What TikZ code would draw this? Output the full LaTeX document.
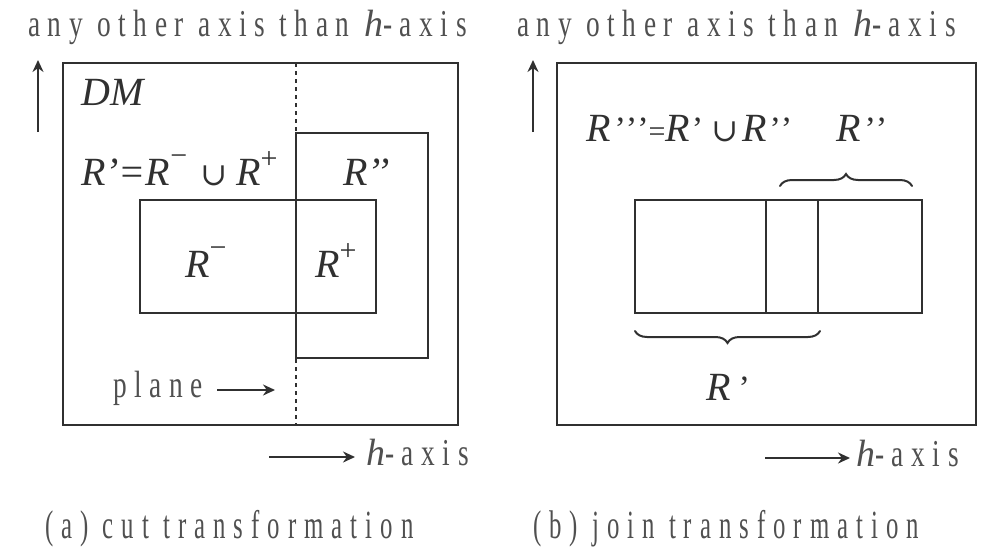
\documentclass[tikz,border=0pt]{standalone}
\usepackage{fontspec}
\setmainfont{Liberation Serif}
\newfontfamily\lab[FakeStretch=0.72,LetterSpace=20]{Liberation Serif}
\newfontfamily\capf[FakeStretch=0.62,LetterSpace=20]{Liberation Serif}
\newfontfamily\symf{DejaVu Serif}
\usetikzlibrary{arrows.meta,decorations.pathreplacing}
\definecolor{ink}{HTML}{303030}
\definecolor{txt}{HTML}{505050}
\newcommand{\hh}{{\normalfont\itshape h}}
\newcommand{\sm}{\raisebox{20pt}{\fontsize{30}{30}\selectfont\upshape −}}
\newcommand{\spl}{\raisebox{17pt}{\fontsize{30}{30}\selectfont\upshape +}}
\newcommand{\uni}{{\symf\upshape\fontsize{32}{32}\selectfont ∪}}
\newcommand{\pr}{\raisebox{1pt}{\fontsize{34}{34}\selectfont\upshape ’}}
\begin{document}
\begin{tikzpicture}[x=1pt,y=-1pt,
  box/.style={draw=ink,line width=1.8pt},
  plane line/.style={draw=ink,line width=1.8pt,dash pattern=on 4pt off 4pt},
  lbl/.style={inner sep=0pt,anchor=base west,text=txt,font=\lab\fontsize{38}{38}\selectfont},
  captxt/.style={inner sep=0pt,anchor=base west,text=txt,font=\capf\fontsize{40}{40}\selectfont},
  mth/.style={inner sep=0pt,text=ink,font=\fontsize{40}{40}\selectfont\itshape},
  arr/.style={draw=ink,line width=2pt,-{Stealth[length=12pt,width=11pt]}},
  brc/.style={draw=ink,line width=2pt,line cap=round,decorate,decoration={brace,amplitude=12pt}}]
\useasboundingbox (0,0) rectangle (990,551);
% ---------- left panel ----------
\node[lbl] (ylabA) at (28,37) {any other axis than \hh-axis};
\coordinate (uaA1) at (38,132);
\coordinate (uaA2) at (38,60);
\draw[arr] (uaA1) -- (uaA2);
\draw[box] (63,63) rectangle (458,425);
\coordinate (plTop) at (296,63);
\coordinate (plBot) at (296,425);
\draw[plane line] (plTop) -- (plBot);
\draw[box] (296,133) rectangle (428,358);
\draw[box] (140,200) rectangle (376,313);
\node[mth,anchor=base west] (dm) at (81,105) {DM};
\node[mth,anchor=base west] (rp) at (81,185) {R’=R\sm\hspace{13pt}\uni\hspace{9pt}R\spl};
\node[mth,anchor=base west] (rpp) at (343,185) {R’’};
\node[mth,anchor=base west] (rm) at (185,277) {R\sm};
\node[mth,anchor=base west] (rpl) at (315,277) {R\spl};
\node[lbl] (plane) at (113,397) {plane};
\coordinate (paA) at (217,390);
\coordinate (paB) at (275,390);
\draw[arr] (paA) -- (paB);
\coordinate (haA1) at (269,457);
\coordinate (haA2) at (355,457);
\draw[arr] (haA1) -- (haA2);
\node[lbl] (haxA) at (366,465) {\hh-axis};
\node[captxt] (capA) at (45,538) {(a) cut transformation};
% ---------- right panel ----------
\node[lbl] (ylabB) at (517,37) {any other axis than \hh-axis};
\coordinate (uaB1) at (533,132);
\coordinate (uaB2) at (533,60);
\draw[arr] (uaB1) -- (uaB2);
\draw[box] (557,63) rectangle (976,425);
\draw[box] (635,200) rectangle (922,313);
\coordinate (d1t) at (766,200);
\coordinate (d1b) at (766,313);
\coordinate (d2t) at (818,200);
\coordinate (d2b) at (818,313);
\draw[box] (d1t) -- (d1b);
\draw[box] (d2t) -- (d2b);
\coordinate (ubL) at (780,186);
\coordinate (ubR) at (912,186);
\draw[brc] (ubL) -- (ubR);
\coordinate (lbR) at (820,331);
\coordinate (lbL) at (635,331);
\draw[brc] (lbR) -- (lbL);
\node[mth,anchor=base west] (rppp) at (586,141) {R\hspace{4pt}\pr\pr\pr{\upshape\fontsize{30}{30}\selectfont=}R\hspace{2pt}\pr\hspace{8pt}\uni\hspace{4pt}R\hspace{3pt}\pr\pr};
\node[mth,anchor=base west] (rpp2) at (836,141) {R\hspace{4pt}\pr\pr};
\node[mth,anchor=base west] (rp2) at (706,400) {R\hspace{8pt}\pr};
\coordinate (haB1) at (765,458);
\coordinate (haB2) at (850,458);
\draw[arr] (haB1) -- (haB2);
\node[lbl] (haxB) at (856,466) {\hh-axis};
\node[captxt] (capB) at (533,538) {(b) join transformation};
\end{tikzpicture}
\end{document}
